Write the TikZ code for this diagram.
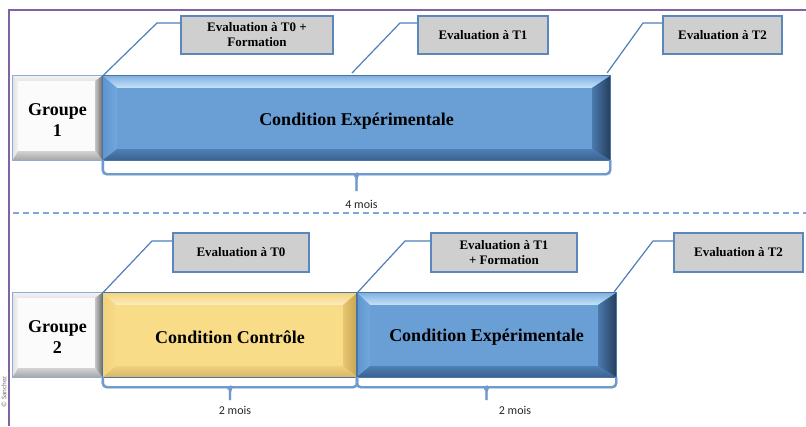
\documentclass[tikz,border=0pt]{standalone}
\usepackage{fontspec}
\setmainfont{Liberation Serif}
\newfontfamily\calib{Carlito}
\usetikzlibrary{calc}

\definecolor{frameC}{HTML}{8064A2}
\definecolor{dashC}{HTML}{7DA6DA}
\definecolor{linkC}{HTML}{4F7FB8}
\definecolor{calloutF}{HTML}{CFCFCF}
\definecolor{calloutD}{HTML}{5B87BD}
\definecolor{braceC}{HTML}{6D9BD1}
\definecolor{barD}{HTML}{4A74A6}
\definecolor{grpD}{HTML}{8EADD3}

\definecolor{blF}{HTML}{6A9FD6}
\definecolor{blTA}{HTML}{7FB0E2}\definecolor{blTB}{HTML}{C6E3F7}
\definecolor{blLA}{HTML}{5F95CF}\definecolor{blLB}{HTML}{72A7DC}
\definecolor{blRA}{HTML}{4A79AD}\definecolor{blRB}{HTML}{253F5E}
\definecolor{blBA}{HTML}{4E7FB6}\definecolor{blBB}{HTML}{3A628F}

\definecolor{yeF}{HTML}{F9DC88}
\definecolor{yeTA}{HTML}{F4D57E}\definecolor{yeTB}{HTML}{FCEDBE}
\definecolor{yeLA}{HTML}{F2D27A}\definecolor{yeLB}{HTML}{F8DB88}
\definecolor{yeRA}{HTML}{E8C671}\definecolor{yeRB}{HTML}{C7A350}
\definecolor{yeBA}{HTML}{EFD080}\definecolor{yeBB}{HTML}{D8B662}

\definecolor{grF}{HTML}{FBFBFB}
\definecolor{grTA}{HTML}{F2F2F2}\definecolor{grTB}{HTML}{E6E6E6}
\definecolor{grLA}{HTML}{E2E2E2}\definecolor{grLB}{HTML}{F5F5F5}
\definecolor{grRA}{HTML}{C4C4C4}\definecolor{grRB}{HTML}{6E6E6E}
\definecolor{grBA}{HTML}{D2D2D2}\definecolor{grBB}{HTML}{A5A5A5}

% bevel: #1 node, #2 left, #3 top, #4 right, #5 bottom, #6 colour prefix
\newcommand{\bvl}[6]{%
  \shade[top color=#6TA,bottom color=#6TB] (#1.north west) -- (#1.north east)
     -- ([shift={(-#4,#3)}]#1.north east) -- ([shift={(#2,#3)}]#1.north west) -- cycle;
  \shade[left color=#6LA,right color=#6LB] (#1.north west) -- ([shift={(#2,#3)}]#1.north west)
     -- ([shift={(#2,-#5)}]#1.south west) -- (#1.south west) -- cycle;
  \shade[left color=#6RA,right color=#6RB] (#1.north east) -- (#1.south east)
     -- ([shift={(-#4,-#5)}]#1.south east) -- ([shift={(-#4,#3)}]#1.north east) -- cycle;
  \shade[top color=#6BA,bottom color=#6BB] (#1.south west) -- ([shift={(#2,-#5)}]#1.south west)
     -- ([shift={(-#4,-#5)}]#1.south east) -- (#1.south east) -- cycle;
}
% brace under node: #1 node, #2 depth, #3 tip length
\newcommand{\brc}[3]{%
  \foreach \sty/\dx/\dy in {brshadow/1.2/1.8, brline/0/0}{
    \begin{scope}[shift={(\dx,\dy)}]
    \draw[\sty] (#1.south west) -- ++(0,#2) -- ($(#1.south)+(-5,#2)$)
       to[out=0,in=90] ($(#1.south)+(0,#2+4)$) -- ($(#1.south)+(0,#2+#3)$);
    \draw[\sty] ($(#1.south)+(0,#2+4)$) to[out=90,in=180] ($(#1.south)+(5,#2)$)
       -- ($(#1.south east)+(0,#2)$) -- (#1.south east);
    \end{scope}}
}

\tikzset{
  barbox/.style={rectangle, inner sep=0pt, minimum height=84pt, text=black,
     font=\bfseries\fontsize{18}{21}\selectfont},
  grpbox/.style={barbox, fill=grF, minimum width=89pt},
  bartext/.style={inner sep=0pt, text=black, align=center,
     font=\bfseries\fontsize{18}{21}\selectfont},
  callout/.style={rectangle, draw=calloutD, line width=1.2pt, fill=calloutF, inner sep=0pt,
     minimum height=38pt, align=center, font=\bfseries\fontsize{13}{15}\selectfont},
  link/.style={draw=linkC, line width=1.2pt},
  brline/.style={draw=braceC, line width=2.4pt, rounded corners=4pt},
  brshadow/.style={draw=black!18, line width=2.4pt, rounded corners=4pt},
  moislbl/.style={font=\calib\fontsize{12}{14}\selectfont, text=black!85},
  sepline/.style={draw=dashC, line width=1.2pt, dash pattern=on 6pt off 4pt},
  frameline/.style={draw=frameC, line width=1.4pt},
}

\begin{document}
\begin{tikzpicture}[x=1pt,y=-1pt]
\useasboundingbox (0,0) rectangle (806,426);
\fill[white] (0,0) rectangle (806,426);

% frame
\coordinate (fa) at (806,10); \coordinate (fb) at (9,10); \coordinate (fc) at (9,426);
\draw[frameline] (fa) -- (fb) -- (fc);
\node[rotate=90, inner sep=0pt, font=\calib\fontsize{7}{8}\selectfont, text=black!55] (copy) at (4,392) {© Sanchez};

% separator
\coordinate (sa) at (13,213); \coordinate (sb) at (806,213);
\draw[sepline] (sa) -- (sb);

% ---------- Groupe 1 ----------
\node[grpbox] (g1) at (57.5,118) {};
\node[barbox, fill=blF, minimum width=507pt] (e1) at (356.5,118) {};
\bvl{g1}{5}{5}{7}{9}{gr}
\bvl{e1}{14}{12}{18}{11}{bl}
\node[bartext] (g1t) at ([yshift=-2pt]g1.center) {Groupe\\1};
\node[bartext] (e1t) at ([yshift=-3pt]e1.center) {Condition Expérimentale};
\draw[grpD, line width=1pt] (g1.north west) rectangle (g1.south east);
\draw[barD, line width=0.8pt] (e1.north west) rectangle (e1.south east);

\node[callout, minimum width=152pt] (t0a) at (257,35) {Evaluation à T0 +\\Formation};
\node[callout, minimum width=130pt] (t1a) at (483,35) {Evaluation à T1};
\node[callout, minimum width=119pt] (t2a) at (722.5,35) {Evaluation à T2};

\coordinate (k1) at (157,23);
\draw[link] (e1.north west) -- (k1) -- (k1 -| t0a.west);
\coordinate (p2) at (352,73); \coordinate (k2) at (400,23);
\draw[link] (p2) -- (k2) -- (k2 -| t1a.west);
\coordinate (k3) at (643,23);
\draw[link] ([shift={(-3,-3)}]e1.north east) -- (k3) -- (k3 -| t2a.west);

\brc{e1}{14}{17}
\node[moislbl] (m1) at (361.5,204) {4 mois};

% ---------- Groupe 2 ----------
\node[grpbox] (g2) at (57.5,335) {};
\node[barbox, fill=yeF, minimum width=254pt] (c2) at (230,335) {};
\node[barbox, fill=blF, minimum width=259pt] (e2) at (486.5,335) {};
\bvl{g2}{5}{5}{7}{9}{gr}
\bvl{c2}{13}{12}{14}{11}{ye}
\bvl{e2}{13}{12}{18}{11}{bl}
\node[bartext] (g2t) at ([yshift=-2pt]g2.center) {Groupe\\2};
\node[bartext] (c2t) at ([yshift=-2pt]c2.center) {Condition Contrôle};
\node[bartext] (e2t) at ([yshift=-2pt]e2.center) {Condition Expérimentale};
\draw[grpD, line width=1pt] (g2.north west) rectangle (g2.south east);
\draw[barD, line width=0.8pt] (c2.north west) rectangle (c2.south east);
\draw[barD, line width=0.8pt] (e2.north west) rectangle (e2.south east);

\node[callout, minimum width=136pt, minimum height=39pt] (t0b) at (241,252.5) {Evaluation à T0};
\node[callout, minimum width=146pt, minimum height=39pt] (t1b) at (504,252.5) {Evaluation à T1\\+ Formation};
\node[callout, minimum width=129pt, minimum height=39pt] (t2b) at (738.5,252.5) {Evaluation à T2};

\coordinate (k4) at (152,241);
\draw[link] (c2.north west) -- (k4) -- (k4 -| t0b.west);
\coordinate (k5) at (405,241);
\draw[link] (c2.north east) -- (k5) -- (k5 -| t1b.west);
\coordinate (k6) at (653,241);
\draw[link] ([shift={(-2,-1)}]e2.north east) -- (k6) -- (k6 -| t2b.west);

\brc{c2}{10}{13}
\brc{e2}{10}{13}
\node[moislbl] (m2) at (235,410) {2 mois};
\node[moislbl] (m3) at (515,410) {2 mois};
\end{tikzpicture}
\end{document}
